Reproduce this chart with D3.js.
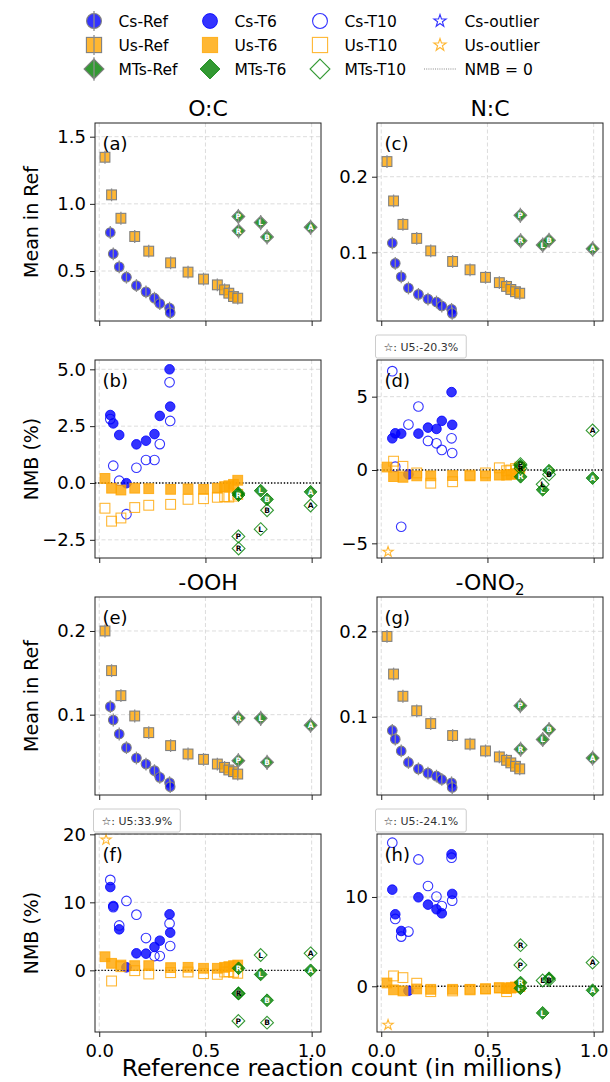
<!DOCTYPE html>
<html>
<head>
<meta charset="utf-8">
<script src="https://cdn.jsdelivr.net/npm/d3@7"></script>
<style>
body { margin: 0; background: #fff; }
svg { font-family: "DejaVu Sans", sans-serif; }
</style>
</head>
<body>
<svg id="chart" width="610" height="1082"></svg>
<script>
// reaction counts (millions) for each mechanism
var csX = [0.052, 0.066, 0.094, 0.128, 0.175, 0.220, 0.260, 0.285, 0.331, 0.334];
var usX = [0.027, 0.058, 0.102, 0.167, 0.233, 0.336, 0.418, 0.491, 0.556, 0.590, 0.610, 0.632, 0.652];
var mtLetters = ["P", "R", "L", "B", "A"];
var mtX = [0.655, 0.656, 0.760, 0.790, 0.995];

// O:C
var csRefOC = [0.787, 0.628, 0.531, 0.454, 0.392, 0.345, 0.298, 0.258, 0.224, 0.190];
var usRefOC = [1.347, 1.067, 0.893, 0.757, 0.648, 0.561, 0.492, 0.440, 0.397, 0.360, 0.335, 0.310, 0.298];
var mtRefOC = [0.906, 0.799, 0.861, 0.754, 0.826];
var csT6OC = [2.99, 2.62, 2.11, -0.01, 1.70, 1.86, 2.15, 2.95, 5.00, 3.36];
var csT10OC = [2.81, 0.76, 0.10, -1.37, 0.67, 1.01, 1.01, 1.71, 4.43, 2.73];
var usT6OC = [0.20, -0.23, -0.31, -0.23, -0.25, -0.28, -0.26, -0.28, -0.23, -0.16, -0.12, -0.06, 0.12];
var usT10OC = [-1.11, -1.68, -1.54, -1.08, -0.98, -0.94, -0.72, -0.69, -0.63, -0.60, -0.62, -0.58, -0.50];
var mtT6OC = [-0.45, -0.53, -0.34, -0.72, -0.39];
var mtT10OC = [-2.35, -2.88, -2.03, -1.20, -0.99];

// N:C
var csRefNC = [0.1123, 0.0855, 0.0678, 0.0529, 0.0445, 0.0383, 0.0344, 0.0291, 0.0247, 0.0194];
var usRefNC = [0.220, 0.168, 0.137, 0.1185, 0.102, 0.088, 0.077, 0.067, 0.060, 0.055, 0.051, 0.048, 0.046];
var mtRefNC = [0.149, 0.1154, 0.1097, 0.116, 0.1048];
var csT6NC = [2.16, 2.50, 2.48, -0.30, 2.48, 2.89, 2.80, 3.35, 5.31, 3.08];
var csT10NC = [6.74, 0.23, -3.87, 3.10, 4.33, 1.98, 1.82, 1.37, 2.16, 1.16];
var usT6NC = [0.20, -0.45, -0.50, -0.40, -0.40, -0.38, -0.40, -0.40, -0.35, -0.35, -0.30, -0.25, 0.10];
var usT10NC = [null, 0.60, 0.25, -0.20, -0.90, -0.80, -0.35, -0.20, 0.15, -0.05, 0.00, 0.10, 0.20];
var mtT6NC = [0.30, -0.46, -1.35, -0.05, -0.55];
var mtT10NC = [0.40, 0.12, -0.98, -0.30, 2.70];

// -OOH
var csRefOOH = [0.1096, 0.0936, 0.0769, 0.0606, 0.0482, 0.0410, 0.0331, 0.0251, 0.0187, 0.0140];
var usRefOOH = [0.200, 0.1526, 0.1227, 0.0984, 0.0785, 0.063, 0.053, 0.0466, 0.041, 0.037, 0.0339, 0.0319, 0.029];
var mtRefOOH = [0.045, 0.096, 0.0956, 0.043, 0.0873];
var csT6OOH = [12.25, 9.46, 6.03, 0.44, 2.50, 2.45, 3.43, 4.36, 8.24, 5.54];
var csT10OOH = [13.3, 9.3, 6.6, 10.2, 8.19, 4.75, 2.1, 2.1, 6.9, 3.58];
var usT6OOH = [2.0, 1.03, 0.78, 0.69, 0.69, 0.40, 0.44, 0.30, 0.30, 0.44, 0.54, 0.69, 0.78];
var usT10OOH = [null, -1.57, 0.54, -0.05, -0.54, -0.34, -0.25, -0.49, -0.59, -0.25, -0.20, -0.30, -0.44];
var mtT6OOH = [-3.4, 0.3, -0.6, -4.4, 0.0];
var mtT10OOH = [-7.45, -3.4, 2.25, -7.7, 2.5];

// -ONO2
var csRefONO2 = [0.084, 0.0738, 0.060, 0.0465, 0.039, 0.034, 0.0305, 0.0266, 0.0227, 0.0172];
var usRefONO2 = [0.194, 0.150, 0.124, 0.107, 0.092, 0.078, 0.068, 0.060, 0.053, 0.049, 0.046, 0.042, 0.039];
var mtRefONO2 = [0.113, 0.062, 0.0734, 0.085, 0.0516];
var csT6ONO2 = [10.82, 8.06, 6.19, -0.50, 9.96, 9.14, 8.62, 8.17, 14.78, 10.34];
var csT10ONO2 = [16.08, 7.54, 5.56, 6.12, 14.2, 11.23, 10.04, 8.99, 14.4, 9.59];
var usT6ONO2 = [0.37, -0.40, -0.52, -0.30, -0.34, -0.34, -0.34, -0.30, -0.20, -0.26, -0.15, -0.10, 0.00];
var usT10ONO2 = [null, 1.16, 0.97, 0.34, -0.60, -0.52, -0.40, -0.28, -0.15, -0.60, -0.20, -0.10, 0.00];
var mtT6ONO2 = [-0.22, 0.41, -2.98, 0.9, -0.45];
var mtT10ONO2 = [2.39, 4.6, 0.65, 0.7, 2.65];

// U5 outliers (Us-T10), value shown in the box, star pinned near the axis edge
var outlierText = ["U5:-20.3%", "U5:33.9%", "U5:-24.1%"];
var outlierShown = [-5.58, 19.2, -4.33];
var outlierX = 0.032;

// axis ticks
var xTicks = [0, 0.5, 1.0];
var yTicksOC = [0.5, 1.0, 1.5], yTicksNC = [0.1, 0.2], yTicksOOH = [0.1, 0.2], yTicksONO2 = [0.1, 0.2];
var nmbTicksOC = [-2.5, 0, 2.5, 5], nmbTicksNC = [-5, 0, 5], nmbTicksOOH = [0, 10, 20], nmbTicksONO2 = [0, 10];

var svg = d3.select("#chart");
var W = 226, H = 198;
var colLeft = [95, 377], rowTop = [123, 360, 597, 834];
var xDomain = [-0.02, 1.044];
var blue = "#0000ff", orange = "#ffa500", green = "#008000";

var panels = [
  {id: "a", col: 0, row: 0, title: "O:C", ylab: "Mean in Ref", dom: [0.128, 1.602], ticks: yTicksOC, fmt: ".1f",
   cs: [csRefOC], us: [usRefOC], mt: [mtRefOC]},
  {id: "c", col: 1, row: 0, title: "N:C", dom: [0.0093, 0.271], ticks: yTicksNC, fmt: ".1f",
   cs: [csRefNC], us: [usRefNC], mt: [mtRefNC]},
  {id: "b", col: 0, row: 1, ylab: "NMB (%)", nmb: true, dom: [-3.30, 5.41], ticks: nmbTicksOC, fmt: ".1f",
   cs: [csT6OC, csT10OC], us: [usT6OC, usT10OC], mt: [mtT6OC, mtT10OC]},
  {id: "d", col: 1, row: 1, nmb: true, dom: [-6.0, 7.5], ticks: nmbTicksNC, fmt: "d", out: 0,
   cs: [csT6NC, csT10NC], us: [usT6NC, usT10NC], mt: [mtT6NC, mtT10NC]},
  {id: "e", col: 0, row: 2, title: "-OOH", ylab: "Mean in Ref", dom: [0.004, 0.2406], ticks: yTicksOOH, fmt: ".1f",
   cs: [csRefOOH], us: [usRefOOH], mt: [mtRefOOH]},
  {id: "g", col: 1, row: 2, title: "-ONO", sub: "2", dom: [0.0084, 0.2402], ticks: yTicksONO2, fmt: ".1f",
   cs: [csRefONO2], us: [usRefONO2], mt: [mtRefONO2]},
  {id: "f", col: 0, row: 3, ylab: "NMB (%)", nmb: true, dom: [-9.07, 20.05], ticks: nmbTicksOOH, fmt: "d", out: 1,
   cs: [csT6OOH, csT10OOH], us: [usT6OOH, usT10OOH], mt: [mtT6OOH, mtT10OOH]},
  {id: "h", col: 1, row: 3, nmb: true, dom: [-5.12, 17.05], ticks: nmbTicksONO2, fmt: "d", out: 2,
   cs: [csT6ONO2, csT10ONO2], us: [usT6ONO2, usT10ONO2], mt: [mtT6ONO2, mtT10ONO2]}
];

// draw one marker centred at 0,0 inside g
function marker(g, kind, color, style, k, letter) {
  k = k || 1;
  var el;
  if (kind == "o") {
    el = g.append("circle").attr("r", 4.8 * k);
  } else if (kind == "s") {
    el = g.append("rect").attr("x", -4.9 * k).attr("y", -4.9 * k).attr("width", 9.8 * k).attr("height", 9.8 * k);
  } else if (kind == "D") {
    var h = 6.4 * k;
    el = g.append("path").attr("d", "M0," + (-h) + "L" + h + ",0L0," + h + "L" + (-h) + ",0Z");
  } else {
    var pts = [];
    for (var i = 0; i < 10; i++) {
      var r = (i % 2 ? 2.1 : 5.4) * k, a = Math.PI * i / 5;
      pts.push([r * Math.sin(a), -r * Math.cos(a)]);
    }
    el = g.append("path").attr("d", "M" + pts.join("L") + "Z");
  }
  if (style == "ref") {
    el.attr("fill", color).attr("fill-opacity", 0.8).attr("stroke", "#808080").attr("stroke-width", 1.1);
    var l = (kind == "D" ? 7.6 : 6.4) * k;
    g.append("line").attr("y1", -l).attr("y2", l).attr("stroke", "#8c8c8c").attr("stroke-width", 1.3);
  } else if (style == "t6") {
    el.attr("fill", color).attr("fill-opacity", 0.8).attr("stroke", color).attr("stroke-opacity", 0.8).attr("stroke-width", 1);
  } else {
    el.attr("fill", "none").attr("stroke", color).attr("stroke-opacity", 0.8).attr("stroke-width", 1.1);
  }
  if (letter) {
    g.append("text").attr("text-anchor", "middle").attr("dy", "0.36em")
      .attr("font-size", 7.5 * k).attr("font-weight", "bold")
      .attr("fill", style == "t10" ? "#000" : "#fff").text(letter);
  }
}

panels.forEach(function(p) {
  var left = colLeft[p.col], top = rowTop[p.row];
  var x = d3.scaleLinear().domain(xDomain).range([left, left + W]);
  var y = d3.scaleLinear().domain(p.dom).range([top + H, top]);
  var g = svg.append("g");

  // grid
  g.selectAll(".gx").data(xTicks).enter().append("line")
    .attr("x1", d => x(d)).attr("x2", d => x(d)).attr("y1", top).attr("y2", top + H)
    .attr("stroke", "#d3d3d3").attr("stroke-width", 0.8).attr("stroke-dasharray", "4,2.5");
  g.selectAll(".gy").data(p.ticks).enter().append("line")
    .attr("x1", left).attr("x2", left + W).attr("y1", d => y(d)).attr("y2", d => y(d))
    .attr("stroke", "#d3d3d3").attr("stroke-width", 0.8).attr("stroke-dasharray", "4,2.5");

  if (p.nmb) {
    g.append("line").attr("x1", left).attr("x2", left + W).attr("y1", y(0)).attr("y2", y(0))
      .attr("stroke", "#000").attr("stroke-width", 1.3).attr("stroke-dasharray", "1.3,1.9");
  }

  var styles = p.nmb ? ["t6", "t10"] : ["ref"];
  // Cs, then Us, then MTs
  styles.forEach(function(st, si) {
    p.cs[si].forEach(function(v, i) {
      marker(g.append("g").attr("transform", "translate(" + x(csX[i]) + "," + y(v) + ")"), "o", blue, st);
    });
  });
  styles.forEach(function(st, si) {
    p.us[si].forEach(function(v, i) {
      if (v == null) return;
      marker(g.append("g").attr("transform", "translate(" + x(usX[i]) + "," + y(v) + ")"), "s", orange, st);
    });
  });
  styles.forEach(function(st, si) {
    p.mt[si].forEach(function(v, i) {
      marker(g.append("g").attr("transform", "translate(" + x(mtX[i]) + "," + y(v) + ")"), "D", green, st, 1, mtLetters[i]);
    });
  });

  if (p.out != null) {
    marker(g.append("g").attr("transform", "translate(" + x(outlierX) + "," + y(outlierShown[p.out]) + ")"), "*", orange, "t10");
    var box = svg.append("g").attr("transform", "translate(" + (left - 1.5) + "," + (top - 25) + ")");
    var r = box.append("rect").attr("height", 23).attr("rx", 2)
      .attr("fill", "#fff").attr("stroke", "#cccccc").attr("stroke-width", 1);
    var t = box.append("text").attr("x", 8).attr("y", 15.5).attr("font-size", 11).attr("fill", "#333")
      .text("\u2606: " + outlierText[p.out]);
    r.attr("width", t.node().getComputedTextLength() + 16);
  }

  // axes
  var ya = g.append("g").attr("transform", "translate(" + left + ",0)")
    .call(d3.axisLeft(y).tickValues(p.ticks).tickFormat(d3.format(p.fmt)).tickSize(5).tickPadding(4));
  var xa = g.append("g").attr("transform", "translate(0," + (top + H) + ")")
    .call(d3.axisBottom(x).tickValues(xTicks).tickFormat(p.row == 3 ? d3.format(".1f") : () => "").tickSize(5).tickPadding(7));
  [ya, xa].forEach(function(a) {
    a.attr("font-family", null).attr("font-size", 18);
    a.select(".domain").remove();
    a.selectAll(".tick line").attr("stroke", "#222").attr("stroke-width", 1);
    a.selectAll(".tick text").attr("fill", "#000");
  });

  g.append("rect").attr("x", left).attr("y", top).attr("width", W).attr("height", H)
    .attr("fill", "none").attr("stroke", "#222").attr("stroke-width", 1);

  g.append("text").attr("x", left + 7.5).attr("y", top + 27).attr("font-size", 18).text("(" + p.id + ")");

  if (p.title) {
    var tt = svg.append("text").attr("x", left + W / 2).attr("y", top - 7).attr("text-anchor", "middle")
      .attr("font-size", 22).text(p.title);
    if (p.sub) tt.append("tspan").attr("font-size", 15).attr("dy", 5).text(p.sub);
  }
  if (p.ylab) {
    svg.append("text").attr("transform", "translate(38," + (top + H / 2) + ") rotate(-90)")
      .attr("text-anchor", "middle").attr("font-size", 19).text(p.ylab);
  }
});

svg.append("text").attr("x", 342).attr("y", 1076).attr("text-anchor", "middle")
  .attr("font-size", 23.5).text("Reference reaction count (in millions)");

// legend, 4 columns x 3 rows
var legNames = [["Cs-Ref", "Us-Ref", "MTs-Ref"], ["Cs-T6", "Us-T6", "MTs-T6"],
                ["Cs-T10", "Us-T10", "MTs-T10"], ["Cs-outlier", "Us-outlier", "NMB = 0"]];
var legX = [94, 210, 320, 440], legY = [21, 45, 69];
var legKinds = ["o", "s", "D"], legColors = [blue, orange, green], legStyles = ["ref", "t6", "t10"];
legNames.forEach(function(col, ci) {
  col.forEach(function(name, ri) {
    var g = svg.append("g").attr("transform", "translate(" + legX[ci] + "," + legY[ri] + ")");
    if (ci < 3) {
      marker(g, legKinds[ri], legColors[ri], legStyles[ci], 1.55);
    } else if (ri < 2) {
      marker(g, "*", legColors[ri], "t10", 1.2);
    } else {
      g.append("line").attr("x1", -16).attr("x2", 16).attr("stroke", "#888")
        .attr("stroke-width", 1).attr("stroke-dasharray", "1,1.2");
    }
    svg.append("text").attr("x", legX[ci] + 24.5).attr("y", legY[ri]).attr("dy", "0.36em")
      .attr("font-size", 15.5).text(name);
  });
});
</script>
</body>
</html>
